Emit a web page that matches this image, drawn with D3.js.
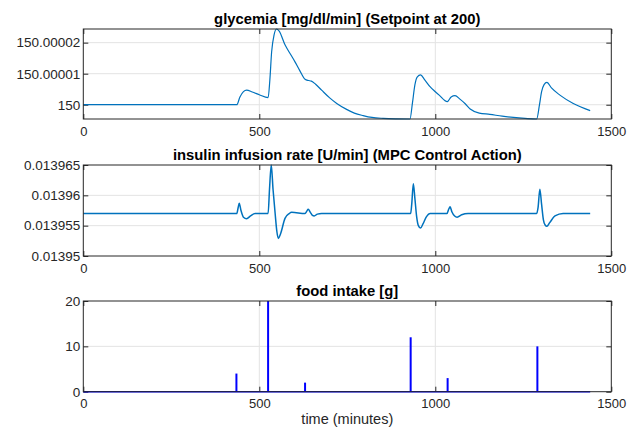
<!DOCTYPE html>
<html>
<head>
<meta charset="utf-8">
<script src="https://cdn.jsdelivr.net/npm/d3@7"></script>
<style>
  body { margin: 0; background: #fff; }
  text { font-family: "Liberation Sans", Arial, Helvetica, sans-serif; }
</style>
</head>
<body>
<svg id="chart" width="638" height="427"></svg>
<script>
// x axis
const xTicks = [0, 500, 1000, 1500];

// glycemia [mg/dl/min]
const glyTime = [0, 436, 445, 455, 464, 480, 500, 525, 530, 535, 542, 549, 556, 573, 590, 601, 615, 630, 640, 648, 660, 677, 700, 720, 748, 770, 795, 820, 852, 890, 928,
  935, 942, 949, 958, 970, 985, 1000, 1011, 1034, 1045, 1056, 1070, 1085, 1099, 1125, 1155, 1190, 1222, 1255, 1288,
  1296, 1302, 1309, 1317, 1330, 1354, 1392, 1440];
const glyValue = [150, 150, 150.0000025, 150.0000042, 150.0000047, 150.0000041, 150.0000032, 150.0000023, 150.0000080, 150.0000170, 150.0000225, 150.0000244, 150.0000238,
  150.0000193, 150.0000160, 150.0000139, 150.0000110, 150.0000082, 150.0000078, 150.0000076, 150.0000066, 150.0000047, 150.0000022, 150.0000004,
  149.9999985, 149.9999973, 149.9999965, 149.9999959, 149.9999956, 149.99999545, 149.9999954,
  150.0000005, 150.0000064, 150.0000090, 150.0000096, 150.0000080, 150.0000058, 150.0000042, 150.0000031, 150.0000010, 150.0000025, 150.0000029,
  150.0000018, 150.0000003, 149.9999986, 149.9999973, 149.9999969, 149.9999963, 149.9999959, 149.9999956, 149.9999954,
  150.0000000, 150.0000042, 150.0000065, 150.0000072, 150.0000054, 150.0000031, 150.0000004, 149.9999981];
const glyTicks = ["150", "150.00001", "150.00002"];

// insulin infusion rate [U/min]
const insTime = [0, 436, 440, 443, 448, 455, 464, 475, 488, 525, 529, 534, 539, 545, 550, 554, 560, 573, 585, 592, 630, 635, 639, 645, 651, 656, 665, 677,
  930, 933, 937.6, 942, 947, 952, 958, 965, 975, 985, 1033, 1038, 1042, 1047, 1055, 1062, 1075, 1093,
  1288, 1292, 1297, 1302, 1307, 1312, 1317, 1325, 1340, 1363, 1440];
const insValue = [0.0139570, 0.0139570, 0.0139580, 0.0139587, 0.0139575, 0.0139564, 0.01395615, 0.0139566, 0.0139570, 0.0139570, 0.0139610, 0.0139650,
  0.0139610, 0.0139570, 0.0139540, 0.0139529, 0.0139536, 0.0139562, 0.0139570, 0.0139572, 0.0139570, 0.0139574, 0.0139577, 0.0139572, 0.0139567,
  0.0139566, 0.0139569, 0.0139570,
  0.0139570, 0.0139585, 0.0139619, 0.0139595, 0.0139565, 0.0139550, 0.0139546, 0.0139553, 0.0139565, 0.0139570,
  0.0139570, 0.0139577, 0.0139581, 0.0139573, 0.0139566, 0.0139564, 0.0139568, 0.0139570,
  0.0139570, 0.0139580, 0.0139610, 0.0139585, 0.0139560, 0.0139551, 0.0139549, 0.0139555, 0.0139566, 0.0139570, 0.0139570];
const insTicks = ["0.01395", "0.013955", "0.01396", "0.013965"];

// food intake [g]
const mealTime = [435, 525, 630, 930, 1035, 1290];
const mealGrams = [4, 20, 2, 12, 3, 10];
const foodEnd = 1440;
const foodTicks = ["0", "10", "20"];

const svg = d3.select("#chart");
svg.append("rect").attr("width", 638).attr("height", 427).attr("fill", "#fff");

const left = 83.3, right = 611.3;
const x = d3.scaleLinear().domain([0, 1500]).range([left, right]);

const tickLen = 5;
const axisColor = "#262626";
const gridColor = "#e3e3e3";

function drawPanel(top, bottom, yDomain, yTickLabels, title) {
    const y = d3.scaleLinear().domain(yDomain).range([bottom, top]);
    const yTickVals = yTickLabels.map(Number);
    const g = svg.append("g");

    // grid
    g.selectAll(".vgrid").data(xTicks.slice(1, -1)).join("line")
        .attr("x1", d => x(d)).attr("x2", d => x(d))
        .attr("y1", top).attr("y2", bottom)
        .style("stroke", gridColor).style("stroke-width", 1);
    g.selectAll(".hgrid").data(yTickVals.filter(v => y(v) > top + 1 && y(v) < bottom - 1)).join("line")
        .attr("x1", left).attr("x2", right)
        .attr("y1", d => y(d)).attr("y2", d => y(d))
        .style("stroke", gridColor).style("stroke-width", 1);

    // axes with inward ticks
    const xb = g.append("g").attr("transform", `translate(0,${bottom})`)
        .call(d3.axisBottom(x).tickValues(xTicks).tickSize(-tickLen).tickPadding(7.5).tickFormat(d3.format("d")));
    const xt = g.append("g").attr("transform", `translate(0,${top})`)
        .call(d3.axisTop(x).tickValues(xTicks).tickSize(-tickLen).tickFormat(""));
    const yl = g.append("g").attr("transform", `translate(${left},0)`)
        .call(d3.axisLeft(y).tickValues(yTickVals).tickSize(-tickLen).tickPadding(3)
            .tickFormat((d, i) => yTickLabels[i]));
    const yr = g.append("g").attr("transform", `translate(${right},0)`)
        .call(d3.axisRight(y).tickValues(yTickVals).tickSize(-tickLen).tickFormat(""));

    [xb, xt, yl, yr].forEach(a => {
        a.select(".domain").remove();
        a.selectAll("line").style("stroke", axisColor);
        a.selectAll("text").style("fill", axisColor).style("font-size", "13px");
    });
    yl.selectAll("text").style("font-size", "13.5px");

    // title
    g.append("text")
        .attr("x", (left + right) / 2).attr("y", top - 5)
        .attr("text-anchor", "middle")
        .style("font-size", "14.8px").style("font-weight", "bold").style("fill", "#000")
        .text(title);

    return { g, y };
}

// glycemia panel
const p1 = drawPanel(29, 119, [149.9999954, 150.0000244], glyTicks, "glycemia [mg/dl/min] (Setpoint at 200)");
p1.g.append("path")
    .datum(glyTime.map((t, i) => [t, glyValue[i]]))
    .attr("d", d3.line().x(d => x(d[0])).y(d => p1.y(d[1])).curve(d3.curveMonotoneX))
    .style("fill", "none").style("stroke", "#0072BD").style("stroke-width", 1.2);

// insulin panel
const p2 = drawPanel(165, 256, [0.01395, 0.013965], insTicks, "insulin infusion rate [U/min] (MPC Control Action)");
p2.g.append("path")
    .datum(insTime.map((t, i) => [t, insValue[i]]))
    .attr("d", d3.line().x(d => x(d[0])).y(d => p2.y(d[1])).curve(d3.curveMonotoneX))
    .style("fill", "none").style("stroke", "#0072BD").style("stroke-width", 1.5);

// food panel
const p3 = drawPanel(301, 391.7, [0, 20], foodTicks, "food intake [g]");
p3.g.append("line")
    .attr("x1", x(0)).attr("x2", x(foodEnd))
    .attr("y1", p3.y(0)).attr("y2", p3.y(0))
    .style("stroke", "#0000ff").style("stroke-width", 1.5);
p3.g.selectAll(".stem").data(mealTime).join("line")
    .attr("x1", d => x(d)).attr("x2", d => x(d))
    .attr("y1", p3.y(0)).attr("y2", (d, i) => p3.y(mealGrams[i]))
    .style("stroke", "#0000ff").style("stroke-width", 2);

// frames
[[29, 119], [165, 256], [301, 391.7]].forEach(([t, b]) => {
    svg.append("rect")
        .attr("x", left).attr("y", t).attr("width", right - left).attr("height", b - t)
        .style("fill", "none").style("stroke", axisColor).style("stroke-width", 1);
});

svg.append("text")
    .attr("x", (left + right) / 2).attr("y", 424)
    .attr("text-anchor", "middle")
    .style("font-size", "14.5px").style("fill", axisColor)
    .text("time (minutes)");
</script>
</body>
</html>
